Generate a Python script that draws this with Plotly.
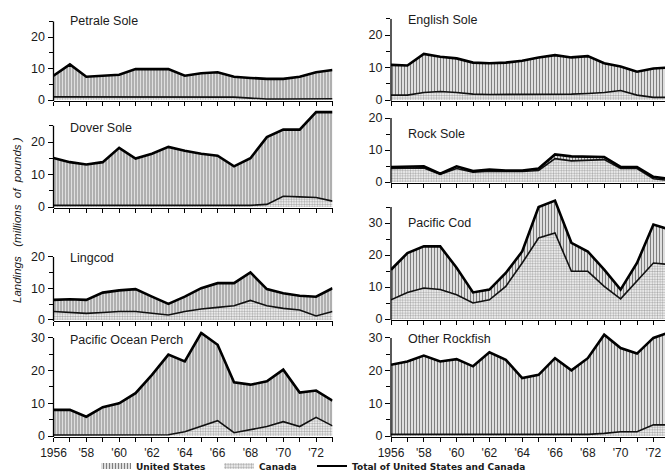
import plotly.graph_objects as go

years = list(range(1956, 1974))

# Landings, millions of pounds
petrale_total = [7.7, 11.3, 7.4, 7.7, 8.0, 9.8, 9.8, 9.8, 7.7, 8.5, 8.8, 7.4, 7.0, 6.7, 6.7, 7.4, 8.8, 9.5]
petrale_canada = [1.0, 1.0, 1.0, 1.0, 1.0, 1.1, 1.1, 1.0, 1.0, 1.0, 1.0, 0.9, 0.6, 0.3, 0.3, 0.3, 0.4, 0.4]

dover_total = [15.1, 13.8, 13.1, 13.8, 18.2, 14.9, 16.4, 18.5, 17.3, 16.4, 15.8, 12.5, 15.0, 21.5, 23.8, 23.8, 29.2, 29.2]
dover_canada = [0.5, 0.5, 0.5, 0.5, 0.5, 0.5, 0.5, 0.5, 0.5, 0.5, 0.5, 0.5, 0.5, 0.8, 3.3, 3.1, 2.9, 1.8]

lingcod_total = [6.4, 6.6, 6.4, 8.7, 9.4, 9.8, 7.4, 5.1, 7.4, 10.1, 11.7, 11.7, 15.1, 9.8, 8.5, 7.7, 7.4, 10.1]
lingcod_canada = [2.7, 2.3, 2.1, 2.4, 2.7, 2.7, 2.1, 1.6, 2.7, 3.5, 4.0, 4.5, 6.2, 4.5, 3.7, 3.2, 1.3, 2.7]

perch_total = [8.0, 8.0, 5.9, 8.8, 10.0, 13.1, 18.7, 24.9, 22.8, 31.5, 27.9, 16.4, 15.7, 16.7, 20.3, 13.3, 13.9, 10.8]
perch_canada = [0.3, 0.3, 0.3, 0.3, 0.3, 0.3, 0.3, 0.4, 1.3, 2.9, 4.7, 1.0, 2.0, 2.9, 4.4, 2.9, 5.7, 3.1]

english_total = [10.8, 10.6, 14.2, 13.3, 12.8, 11.5, 11.3, 11.5, 12.1, 13.1, 13.8, 13.1, 13.5, 11.3, 10.3, 8.7, 9.7, 10.0]
english_canada = [1.5, 1.5, 2.3, 2.6, 2.3, 1.8, 1.7, 1.7, 1.7, 1.7, 1.7, 1.8, 2.0, 2.3, 2.9, 1.5, 0.8, 0.8]

rock_total = [4.7, 4.7, 4.9, 2.6, 4.9, 3.4, 3.9, 3.6, 3.6, 4.2, 8.6, 8.0, 8.0, 7.8, 4.7, 4.7, 1.6, 1.0]
rock_canada = [4.2, 4.2, 4.4, 2.4, 4.2, 3.1, 3.4, 3.3, 3.3, 3.6, 7.3, 6.6, 6.8, 7.0, 4.2, 4.2, 1.0, 0.5]

cod_total = [15.4, 20.6, 22.7, 22.7, 16.0, 8.3, 9.2, 14.4, 21.1, 35.0, 37.0, 23.8, 21.1, 15.4, 9.2, 17.5, 29.5, 27.9]
cod_canada = [6.0, 8.3, 9.7, 9.2, 7.6, 5.0, 6.0, 10.2, 17.5, 25.3, 26.9, 14.9, 14.9, 10.2, 6.3, 11.8, 17.5, 17.0]

rockfish_total = [21.8, 22.8, 24.6, 22.8, 23.5, 21.3, 25.6, 23.3, 17.7, 18.7, 23.8, 20.1, 23.8, 31.0, 26.9, 25.2, 30.0, 31.7]
rockfish_canada = [0.5, 0.5, 0.5, 0.5, 0.5, 0.5, 0.5, 0.5, 0.5, 0.5, 0.5, 0.5, 0.5, 0.8, 1.3, 1.3, 3.4, 3.4]

x_ticklabels = ["1956", "", "'58", "", "'60", "", "'62", "", "'64", "", "'66", "", "'68", "", "'70", "", "'72", ""]

W, H = 665, 474
FONT = "Liberation Sans"

# layout of the eight panels (pixel geometry)
panels = [
    dict(title="Petrale Sole", total=petrale_total, canada=petrale_canada, col=0, zero=100, s=3.15, top=25, axtop=25, majors=[0, 10, 20], minors=[5, 15, 25], ty=21, xlab=False),
    dict(title="Dover Sole", total=dover_total, canada=dover_canada, col=0, zero=207, s=3.25, top=30, axtop=25, majors=[0, 10, 20], minors=[5, 15, 25], ty=128, xlab=False),
    dict(title="Lingcod", total=lingcod_total, canada=lingcod_canada, col=0, zero=320, s=3.15, top=20.5, axtop=20, majors=[0, 10, 20], minors=[5, 15], ty=258, xlab=False),
    dict(title="Pacific Ocean Perch", total=perch_total, canada=perch_canada, col=0, zero=436, s=3.27, top=32, axtop=30, majors=[0, 10, 20, 30], minors=[5, 15, 25], ty=340, xlab=True),
    dict(title="English Sole", total=english_total, canada=english_canada, col=1, zero=100, s=3.25, top=25, axtop=25, majors=[0, 10, 20], minors=[5, 15, 25], ty=20, xlab=False),
    dict(title="Rock Sole", total=rock_total, canada=rock_canada, col=1, zero=182, s=3.2, top=21, axtop=20, majors=[0, 10, 20], minors=[5, 15], ty=134, xlab=False),
    dict(title="Pacific Cod", total=cod_total, canada=cod_canada, col=1, zero=319, s=3.2, top=38, axtop=35, majors=[0, 10, 20, 30], minors=[5, 15, 25, 35], ty=223, xlab=False),
    dict(title="Other Rockfish", total=rockfish_total, canada=rockfish_canada, col=1, zero=436, s=3.27, top=32.5, axtop=30, majors=[0, 10, 20, 30], minors=[5, 15, 25], ty=339, xlab=True),
]

YMIN = -0.3
cols = {
    0: dict(x0=53.5, x1=332.5, rng=[1956, 1973]),
    1: dict(x0=391.0, x1=665.0, rng=[1956, 1956 + (665 - 391) / 16.4]),
}

US_PATTERN = dict(shape="|", size=3, solidity=0.5, fgcolor="#000000", bgcolor="white")
CA_PATTERN = dict(shape=".", size=2.6, solidity=0.5, fgcolor="#555555", bgcolor="white")

fig = go.Figure()
layout = dict(width=W, height=H, margin=dict(l=0, r=0, t=0, b=0, autoexpand=False),
              paper_bgcolor="white", plot_bgcolor="rgba(0,0,0,0)",
              font=dict(family=FONT, size=12, color="#1a1a1a"),
              showlegend=True)
shapes = []
annotations = []

for i, p in enumerate(panels, start=1):
    sfx = "" if i == 1 else str(i)
    c = cols[p["col"]]
    top_px = p["zero"] - p["top"] * p["s"]
    bot_px = p["zero"] - YMIN * p["s"]
    fig.add_trace(go.Scatter(
        x=years, y=p["canada"], mode="lines", xaxis="x" + sfx, yaxis="y" + sfx,
        line=dict(color="#111111", width=1.6), fill="tozeroy", fillcolor="white",
        fillpattern=CA_PATTERN, showlegend=False, hoverinfo="skip"))
    fig.add_trace(go.Scatter(
        x=years, y=p["total"], mode="lines", xaxis="x" + sfx, yaxis="y" + sfx,
        line=dict(color="#000000", width=2.6), fill="tonexty", fillcolor="white",
        fillpattern=US_PATTERN, showlegend=False, hoverinfo="skip"))
    layout["xaxis" + sfx] = dict(
        domain=[c["x0"] / W, c["x1"] / W], range=c["rng"], anchor="y" + sfx,
        showgrid=False, zeroline=False, showline=True, linecolor="black", linewidth=1.3,
        ticks="outside", ticklen=4, tickwidth=1, tickcolor="black",
        tickvals=years, ticktext=x_ticklabels, showticklabels=p["xlab"],
        tickfont=dict(size=12, family=FONT, color="#1a1a1a"), fixedrange=True)
    layout["yaxis" + sfx] = dict(
        domain=[1 - bot_px / H, 1 - top_px / H], range=[YMIN, p["top"]], anchor="x" + sfx,
        showgrid=False, zeroline=False, showline=False,
        ticks="outside", ticklen=5, tickwidth=1, tickcolor="black",
        tickvals=p["majors"], ticktext=[str(v) for v in p["majors"]],
        minor=dict(tickvals=p["minors"], ticks="outside", ticklen=4, tickwidth=1,
                   tickcolor="black", showgrid=False),
        tickfont=dict(size=12.5, family=FONT, color="#1a1a1a"), fixedrange=True)
    shapes.append(dict(type="line", xref="x" + sfx + " domain", yref="y" + sfx,
                       x0=0, x1=0, y0=YMIN, y1=p["axtop"],
                       line=dict(color="black", width=1.3)))
    annotations.append(dict(text=p["title"], xref="paper", yref="paper",
                            x=(c["x0"] + 14.5) / W, y=1 - p["ty"] / H,
                            xanchor="left", yanchor="middle", showarrow=False,
                            font=dict(size=12.5, family=FONT, color="#1a1a1a")))

annotations.append(dict(text="<i>Landings   (millions  of  pounds )</i>", xref="paper", yref="paper",
                        x=17 / W, y=1 - 220 / H, textangle=-90, showarrow=False,
                        xanchor="center", yanchor="middle",
                        font=dict(size=11.5, family=FONT, color="#1a1a1a")))

# legend entries, each in its own legend box
fig.add_trace(go.Scatter(x=[None], y=[None], mode="none", fill="toself", fillcolor="white",
                         fillpattern=US_PATTERN, name="United States", legend="legend",
                         xaxis="x", yaxis="y"))
fig.add_trace(go.Scatter(x=[None], y=[None], mode="none", fill="toself", fillcolor="white",
                         fillpattern=CA_PATTERN, name="Canada", legend="legend2",
                         xaxis="x", yaxis="y"))
fig.add_trace(go.Scatter(x=[None], y=[None], mode="lines", line=dict(color="black", width=1.8),
                         name="Total of United States and Canada", legend="legend3",
                         xaxis="x", yaxis="y"))

leg_font = dict(size=9, family="DejaVu Sans", color="#1a1a1a", weight="bold")
common = dict(orientation="h", yanchor="middle", xanchor="left", bgcolor="rgba(0,0,0,0)",
              font=leg_font, itemwidth=30, tracegroupgap=0)
layout["legend"] = dict(x=96 / W, y=1 - 466 / H, **common)
layout["legend2"] = dict(x=219 / W, y=1 - 466 / H, **common)
layout["legend3"] = dict(x=312 / W, y=1 - 466 / H, **common)

layout["shapes"] = shapes
layout["annotations"] = annotations
fig.update_layout(**layout)

fig.write_html("out.html", config={"displayModeBar": False},
               post_script="document.body.style.margin='0';document.body.style.overflow='hidden';")
